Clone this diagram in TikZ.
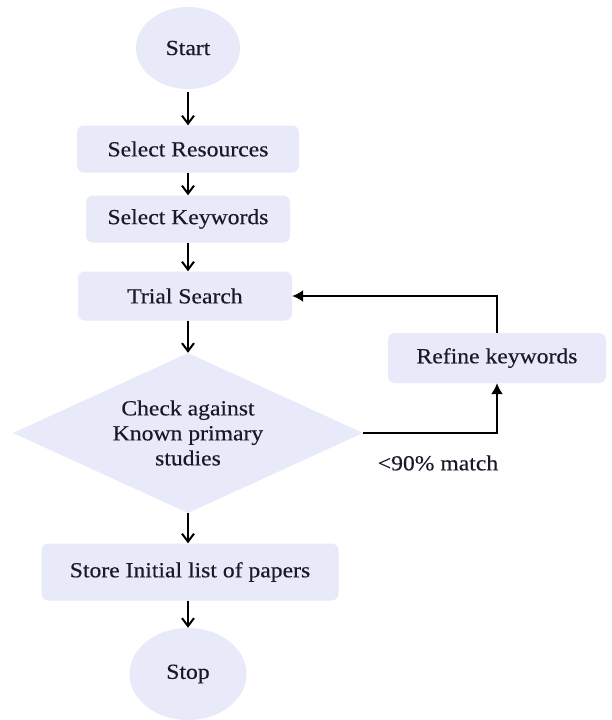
\documentclass[tikz,border=0pt]{standalone}
\usepackage{fontspec}
\setmainfont{Liberation Serif}[FakeStretch=1.1,FakeBold=0.35]
\usetikzlibrary{shapes.geometric,arrows.meta}
\definecolor{boxfill}{RGB}{232,234,250}
\definecolor{txt}{RGB}{25,25,40}
\begin{document}
\begin{tikzpicture}[x=1pt,y=-1pt,
  every node/.style={text=txt,font=\fontsize{21.5}{25}\selectfont},
  procbox/.style={rectangle,rounded corners=7pt,fill=boxfill,draw=none,inner sep=0pt,align=center},
  termbox/.style={ellipse,fill=boxfill,draw=none,inner sep=0pt},
  decbox/.style={diamond,fill=boxfill,draw=none,inner sep=0pt,minimum width=350pt,minimum height=160pt},
  mainarrow/.style={draw=black,line width=2pt,-{Straight Barb[length=8pt,width=12pt,line width=2pt]}},
  fbarrow/.style={draw=black,line width=1.6pt,-{Latex[length=11pt,width=12pt]}}
]
\useasboundingbox (0,0) rectangle (612,720);
\fill[white] (0,0) rectangle (612,720);

\node[termbox,minimum width=104pt,minimum height=82pt] (start) at (188,48) {Start};
\node[procbox,minimum width=222pt,minimum height=47pt] (res) at (188,149) {Select Resources};
\node[procbox,minimum width=204pt,minimum height=47pt] (kw) at (188,219) {Select Keywords};
\node[procbox,minimum width=214pt,minimum height=49pt] (trial) at (185,296) {Trial Search};
\node[decbox] (check) at (188,433) {};
\node[align=center] (checktxt) at (check.center) {Check against\\Known primary\\studies};
\node[procbox,minimum width=218pt,minimum height=50pt] (refine) at (497,358) {Refine keywords};
\node[procbox,minimum width=297pt,minimum height=57pt] (store) at (190,572) {Store Initial list of papers};
\node[termbox,minimum width=117pt,minimum height=92pt] (stop) at (188,674) {Stop};
\node (lbl) at (438,463) {<90\% match};

\draw[mainarrow] (start.south) ++(0,3) -- (res.north -| start.south);
\draw[mainarrow] (res.south) -- (kw.north);
\draw[mainarrow] (kw.south) -- (kw.south |- trial.north);
\draw[mainarrow] (kw.south |- trial.south) -- (check.north);
\draw[mainarrow] (check.south) -- (store.north -| check.south);
\draw[mainarrow] (store.south -| stop.north) -- (stop.north);

\draw[fbarrow] (check.east) -| (refine.south);
\draw[fbarrow] (refine.north) |- (trial.east);
\end{tikzpicture}
\end{document}
